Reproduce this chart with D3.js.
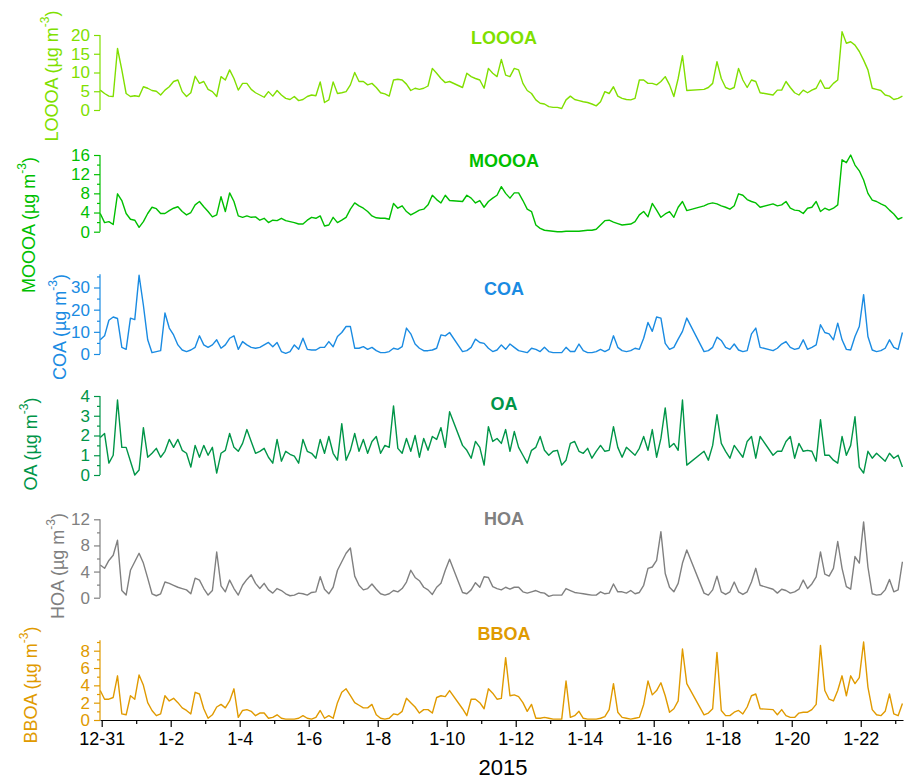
<!DOCTYPE html>
<head>
<meta charset="utf-8">
<title>OA factor time series</title>
<script src="https://d3js.org/d3.v7.min.js"></script>
<style>
body { margin: 0; background: #fff; }
text { font-family: "Liberation Sans", Arial, sans-serif; }
</style>
</head>
<body>
<div id="container"></div>
<script>

// hours since 2014-12-31 00:00 (gaps where the instrument was off)
const hours = [-1,2,5,8,11,14,17,20,23,26,29,32,35,38,41,44,47,50,53,56,59,62,65,68,71,74,77,80,83,86,
  89,92,95,98,101,104,107,110,113,116,119,122,125,128,131,134,137,140,143,146,149,152,155,158,161,164,167,170,173,176,
  179,182,185,188,191,194,197,200,203,206,209,212,215,218,221,224,227,230,233,236,239,242,
  251,254,257,260,263,266,269,272,275,278,281,284,287,290,293,296,299,302,305,308,311,314,317,320,323,326,
  329,332,335,338,341,344,347,350,353,356,359,362,365,368,371,374,377,380,383,386,389,392,395,398,401,404,407,
  419,422,425,428,431,434,437,440,443,446,449,452,455,458,
  467,470,473,476,479,482,485,488,491,494,497,500,503,506,509,512,515,518,521,524,527,530,533,536,539,542,545,548,551,554,557]

const looooa = [5.3,4.4,3.7,3.6,16.4,10.7,4.4,3.6,3.8,3.6,
  6.2,5.8,5.2,5,4,5.3,6.2,7.6,8,4.9,
  3.6,4.6,9,7.1,7.6,5.5,4.9,3.6,8.9,8,
  10.7,8.4,5.3,7.1,7.1,5.5,4.6,4,3.4,4.9,
  3.7,5.2,4,3.1,2.8,3.6,2.5,2.8,3.6,4,
  3.8,7.5,2,2.7,7.5,4.4,4.6,4.9,6.7,10,
  7.6,7.6,6.7,7.1,6,4.6,4.3,3.7,8,8.2,
  8,6.9,5.2,5.8,5.5,5.8,6.4,11.1,9.8,8.4,
  7.3,7.6,6,9.8,8.9,8.4,8,5.8,11.1,9.8,
  8.9,13.5,9.3,8.9,11.1,10.7,7.1,5.2,4.4,2.7,
  1.8,1.6,0.9,0.7,0.7,0.4,2.7,3.7,2.8,2.5,
  2.2,2,1.6,1.1,2.2,4.9,4.4,6.2,3.7,3.1,
  2.8,2.7,3.1,8,8,7.1,7.1,6.7,7.6,8.9,
  6.7,3.6,8.4,14.5,5.2,5.5,6,7.1,12.9,8.4,
  6,5.5,6,11.1,8,6,8,7.6,4.6,4,
  5.3,5.3,7.6,6,4.6,4,5.3,4.6,5.3,5.8,
  8,5.8,5.8,7.1,8,20.9,17.8,18.2,17.3,15.6,
  13.3,10.7,5.8,5.5,5.2,4,3.7,2.8,3.1,3.7]

const moooa = [3.8,1.9,2.1,1.5,7.9,6.5,3.8,2.6,2.4,0.9,
  2.1,3.8,5.1,4.8,3.8,3.8,4.4,4.9,5.2,4.2,
  3.5,4,5.6,6.3,5.2,4.2,3.1,3.5,7.3,4.2,
  8.1,6.3,3.3,3,3.3,3,3.1,2.4,2.8,1.9,
  2.4,2.3,2.8,2.3,2.1,1.9,1.6,1.6,2.4,3,
  2.8,3.3,1.2,1.4,3,1.9,2.4,3,4.7,6,
  5.4,4.9,4.2,3.3,2.9,2.8,2.8,2.6,5.9,4.9,
  5.4,4.2,3.5,4,4.5,4.7,5.6,7.6,6.7,6,
  7.6,6.5,6.3,7.6,7,6,6.5,5.1,6.3,7,
  7.6,9.4,8,7,8.1,8.1,6.5,4.7,4.2,1.4,
  0.7,0.3,0.2,0.1,0,0,0.1,0.1,0.1,0.1,
  0.2,0.3,0.3,0.5,1.4,2.3,2.4,2,1.7,1.4,
  1.5,1.6,2.1,3.5,4.2,3.1,5.9,4.5,3,3.7,
  4.2,3,5.1,6.3,4.4,5.4,5.8,6,5.8,5.4,
  5.1,4.7,5.4,7.9,7.6,6.7,6.3,6,5.1,5.8,
  5.4,5.6,6.3,4.9,4.5,4.4,3.8,4.9,5.1,6.3,
  4.2,4.9,4.5,4.9,5.6,15,14.4,16,13.9,12.7,
  10.8,8,6.6,6.3,5.8,5.4,4.5,3.7,2.6,3]

const coa = [6.4,8.2,15.2,16.7,16,3,2.1,16.2,15.5,35.5,
  22,6.4,0.6,1.1,1.5,18.5,11.7,8.6,4.1,1.8,
  1.1,1.8,3,8.2,4.1,3,4.1,6.4,2.6,4.1,
  7.1,8.2,2.1,5.6,4.1,3,2.6,3,4.1,5.2,
  3.3,5.2,1.1,0.3,1.1,4.1,2.1,7.1,2.1,1.8,
  1.8,3,3,5.6,3.3,7.9,9.7,12.4,12.4,2.6,
  2.6,3.3,2.1,3,1.5,0.6,0.6,1.1,2.6,2.1,
  3.3,11.7,9.1,4.5,2.6,1.5,1.5,1.8,2.6,8.6,
  8.2,9.7,1.1,1.5,3,6.7,5.2,4.8,2.6,1.1,
  1.8,4.1,2.1,4.5,3,1.5,1.1,0.6,2.6,2.1,
  1.1,3,1.1,0.6,0.6,0.6,3,1.1,1.1,4.5,
  1.5,0.6,0.6,1.1,2.1,1.1,2.1,8.2,3,1.5,
  1.1,1.5,2.6,2.1,7.1,14.2,10.2,16.7,16.2,4.8,
  2.1,3,6.7,10.2,16.2,1.1,1.5,3,7.6,6.1,
  3,2.1,4.5,1.8,1.1,1.5,9.1,11.7,3,1.5,
  2.6,4.5,5.6,3,2.1,2.6,6.4,2.1,3,4.1,
  13.2,9.7,9.1,6.4,13.9,6.4,2.1,1.8,7.9,12.4,
  26.8,7.9,1.8,1.1,1.5,2.6,6.4,3,2.1,9.7]

const oa = [1.9,2.1,0.6,1,3.8,1.4,1.4,0.7,0,0.25,
  2.4,0.9,1.1,1.35,0.9,1.2,1.8,1.4,1.8,1.25,
  1.1,0.4,1.5,0.9,1.5,1,1.4,0.1,1.1,1.25,
  2.1,1.4,1.2,1.6,2.3,1.7,1.1,1.2,1.35,0.9,
  0.6,1.8,0.7,1.2,1.05,0.95,0.6,1.8,1.2,1.1,
  0.85,1.8,1.1,1.95,1.1,0.75,2.6,0.75,1.25,2.1,
  1.2,1.8,1.1,1.7,1.95,1.1,1.5,1.4,3.5,1.35,
  1.1,1.85,1.2,2,0.9,1.85,1.25,1.95,1.8,2.4,
  1.4,3.2,1.5,1.25,0.85,1.7,1.4,0.5,2.45,1.7,
  1.85,1.6,2.3,1.2,2.2,1.4,1,0.6,1.25,1.4,
  1.95,1.25,1,1.2,1.25,0.5,0.75,1.6,1.7,1.2,
  1.1,1.35,0.85,1.2,1.5,1.2,1.25,2.45,1.4,0.9,
  1.4,1.2,1,1.35,1.95,1.25,2.3,0.9,1.85,3.4,
  1.4,1.6,1.25,3.8,0.5,1.2,0.75,1.5,3.05,1.6,
  1.2,0.85,1.5,1.2,0.9,1.7,1.95,0.85,1.95,1,
  1.2,1.2,1.7,1.95,0.85,1.6,1.2,1.25,1.2,0.7,
  2.8,1,1,0.75,0.6,1.95,1,1.5,2.95,0.4,
  0.1,1.2,0.85,1.1,0.9,0.7,1.1,0.85,1,0.4]

const hoa = [5,4.5,5.7,6.5,8.8,1.1,0.4,4.2,5.5,6.8,
  5.3,3,0.6,0.3,0.6,2.4,2.2,1.9,1.6,1.4,
  1.2,0.6,3,2.7,1.4,0.4,1.1,7,1.8,0.9,
  2.7,1.4,0.4,1.9,2.8,3.5,2.2,1.4,2.2,1.2,
  0.7,1.4,1.1,0.6,0.3,0.4,0.7,0.6,0.4,0.8,
  0.9,3.2,1.3,0.6,1.6,4.2,5.5,6.8,7.6,3.3,
  1.9,1.2,1.4,2.1,1.3,0.6,0.4,0.6,1.1,0.9,
  1.4,2.4,4.2,3.1,2.6,1.6,1.2,0.5,1.6,2.2,
  4.2,5.9,0.8,0.6,1.2,2.3,1.6,3.2,3.1,1.7,
  1.4,1.2,1.6,1.3,1.6,1.6,0.9,0.7,0.9,1.1,
  0.8,0.7,0.2,0.4,0.4,0.4,1.4,1.1,0.8,0.7,
  0.6,0.5,0.4,0.4,0.9,0.6,0.7,2.1,0.9,0.9,
  0.7,1.1,0.6,0.8,1.9,4.5,4.7,5.7,10.1,3.7,
  1.6,0.9,2.2,5.3,7.3,0.7,0.4,1.2,3.3,0.9,
  0.5,0.9,2.4,0.9,0.5,0.9,2.4,4.5,1.9,1.3,
  0.7,1.3,1.1,0.7,0.9,1.3,2.7,1.4,2.1,3.2,
  7,3.6,3.3,4.5,8.6,4.5,1.7,1.3,6.3,5.3,
  11.6,4.7,0.6,0.4,0.5,1.2,2.8,0.9,1.2,5.5]

const bboa = [3.4,2.4,2.4,2.6,5.1,0.7,0.6,2.8,2.4,5.2,
  4,2,1.1,0.5,0.7,2.8,2.2,2.5,2,1.4,
  1.1,0.7,3.2,3,1.3,0.2,0.6,1.5,1.8,1.4,
  2.2,3.6,0.3,1.1,1.2,1,0.5,0.8,0.8,0.2,
  0.3,0.6,0.2,0.1,0.1,0.1,0.2,0.5,0.2,0.1,
  0.3,1.1,0.2,0.5,0.2,2,3.2,3.6,2.8,2,
  1.7,1.4,1.4,1.8,0.6,0.2,0.1,0.2,0.7,0.6,
  1,2.5,2,1.5,0.8,1.2,1.2,0.8,2.6,2.8,
  2.7,3.4,1.3,0.5,2.4,2.4,2,1.3,3.6,3.1,
  2.4,2.5,7.2,2.8,2.9,2.7,2,1,1.8,0.2,
  0.2,0.3,0.2,0.1,0.1,0.1,4.5,0.3,0.5,1,
  0.2,0.1,0.1,0.1,0.2,0.4,1.2,4.2,0.9,0.3,
  0.2,0.1,0.2,0.3,1.8,4.5,2.9,3.4,4.3,2.8,
  0.9,1.3,2.2,8.2,4.2,0.6,0.8,1.3,7.8,1.1,
  0.5,0.5,0.9,1.1,0.7,1.5,2.8,3,1.3,1.2,
  0.6,1.2,0.5,0.3,0.3,0.8,0.9,0.9,1.2,1.8,
  8.6,3.4,2.4,2.2,3.4,5.1,2.8,5.1,4.2,4.9,
  9,3.8,1.2,0.6,0.5,1,3,0.7,0.5,1.9]

// x axis ticks, in days after 2014-12-31
const majorTickDays = [0,2,4,6,8,10,12,14,16,18,20,22]
const majorTickLabels = ["12-31","1-2","1-4","1-6","1-8","1-10","1-12","1-14","1-16","1-18","1-20","1-22"]
const minorTickDays = [1,3,5,7,9,11,13,15,17,19,21,23]

// y ticks per panel
const looooaTicks = [0,5,10,15,20]
const moooaTicks = [0,4,8,12,16], moooaMinor = [2,6,10,14]
const coaTicks = [0,10,20,30], coaMinor = [5,15,25,35]
const oaTicks = [0,1,2,3,4], oaMinor = [0.5,1.5,2.5,3.5]
const hoaTicks = [0,4,8,12], hoaMinor = [2,6,10]
const bboaTicks = [0,2,4,6,8], bboaMinor = [1,3,5,7,9]

const t0 = Date.UTC(2014, 11, 31)
const toDate = h => new Date(t0 + h * 3600e3)
const dates = hours.map(toDate)

const panels = [
  {name: "LOOOA", values: looooa, color: "#80df00", domain: [0, 20], range: [110, 35],
   ticks: looooaTicks, minor: [], titleY: 44, labelX: 58, labelY: 76},
  {name: "MOOOA", values: moooa, color: "#00bf00", domain: [0, 16], range: [231.7, 155],
   ticks: moooaTicks, minor: moooaMinor, titleY: 167, labelX: 35, labelY: 225},
  {name: "COA", values: coa, color: "#1a8be2", domain: [0, 36], range: [354, 274.2],
   ticks: coaTicks, minor: coaMinor, titleY: 295, labelX: 66, labelY: 327},
  {name: "OA", values: oa, color: "#009548", domain: [0, 4], range: [475, 396],
   ticks: oaTicks, minor: oaMinor, titleY: 410, labelX: 37, labelY: 444},
  {name: "HOA", values: hoa, color: "#808080", domain: [0, 12], range: [597.7, 519.3],
   ticks: hoaTicks, minor: hoaMinor, titleY: 525, labelX: 64, labelY: 566},
  {name: "BBOA", values: bboa, color: "#e09a00", domain: [0, 9.2], range: [720, 640.3],
   ticks: bboaTicks, minor: bboaMinor, titleY: 640, labelX: 37, labelY: 685}
]

const width = 904, height = 783
const svg = d3.select("#container").append("svg")
  .attr("width", width).attr("height", height)

const x = d3.scaleUtc()
  .domain([toDate(-1.18), toDate(557.4)])
  .range([100, 903])

for (const p of panels) {
  const y = d3.scaleLinear().domain(p.domain).range(p.range)
  const axisTop = Math.min(y(p.ticks[p.ticks.length - 1]), y(p.domain[1]))

  const g = svg.append("g").attr("transform", "translate(100,0)")
  g.append("line")
    .attr("x1", 0).attr("x2", 0).attr("y1", p.range[0]).attr("y2", axisTop)
    .attr("stroke", p.color).attr("stroke-width", 1.2)
  g.call(d3.axisLeft(y).tickValues(p.ticks).tickSize(6).tickPadding(4).tickFormat(d3.format("d")))
    .call(a => a.select(".domain").remove())
    .call(a => a.selectAll(".tick line").attr("stroke", p.color).attr("stroke-width", 1.2))
    .call(a => a.selectAll(".tick text").attr("fill", p.color)
      .attr("font-size", 17).attr("font-family", "Liberation Sans, Arial, sans-serif"))
  if (p.minor.length) {
    svg.append("g").attr("transform", "translate(100,0)")
      .call(d3.axisLeft(y).tickValues(p.minor).tickSize(3).tickFormat(""))
      .call(a => a.select(".domain").remove())
      .call(a => a.selectAll(".tick line").attr("stroke", p.color).attr("stroke-width", 1.2))
  }

  const line = d3.line()
    .x((d, i) => x(dates[i]))
    .y(d => y(d))
  svg.append("path")
    .datum(p.values)
    .attr("fill", "none")
    .attr("stroke", p.color)
    .attr("stroke-width", 1.4)
    .attr("stroke-linejoin", "round")
    .attr("d", line)

  svg.append("text")
    .attr("x", 504).attr("y", p.titleY)
    .attr("text-anchor", "middle")
    .attr("font-weight", "bold").attr("font-size", 18)
    .attr("fill", p.color)
    .text(p.name)

  const lab = svg.append("text")
    .attr("transform", `translate(${p.labelX},${p.labelY}) rotate(-90)`)
    .attr("text-anchor", "middle")
    .attr("font-size", 18)
    .attr("fill", p.color)
  lab.append("tspan").text(p.name + " (\u00b5g m")
  lab.append("tspan").attr("font-size", 12).attr("dy", -9).text("-3")
  lab.append("tspan").attr("dy", 9).text(")")
}

// time axis
const xg = svg.append("g").attr("transform", "translate(0,720)")
xg.call(d3.axisBottom(x)
    .tickValues(majorTickDays.map(d => toDate(d * 24)))
    .tickSize(7).tickPadding(5).tickSizeOuter(0)
    .tickFormat((d, i) => majorTickLabels[i]))
  .call(a => a.select(".domain").attr("stroke", "#000").attr("stroke-width", 1.2))
  .call(a => a.selectAll(".tick line").attr("stroke", "#000").attr("stroke-width", 1.2))
  .call(a => a.selectAll(".tick text").attr("fill", "#000")
    .attr("font-size", 18).attr("font-family", "Liberation Sans, Arial, sans-serif"))
svg.append("g").attr("transform", "translate(0,720)")
  .call(d3.axisBottom(x).tickValues(minorTickDays.map(d => toDate(d * 24)))
    .tickSize(4).tickFormat(""))
  .call(a => a.select(".domain").remove())
  .call(a => a.selectAll(".tick line").attr("stroke", "#000").attr("stroke-width", 1.2))

svg.append("text")
  .attr("x", 503).attr("y", 775)
  .attr("text-anchor", "middle")
  .attr("font-size", 22)
  .text("2015")

</script>
</body>
